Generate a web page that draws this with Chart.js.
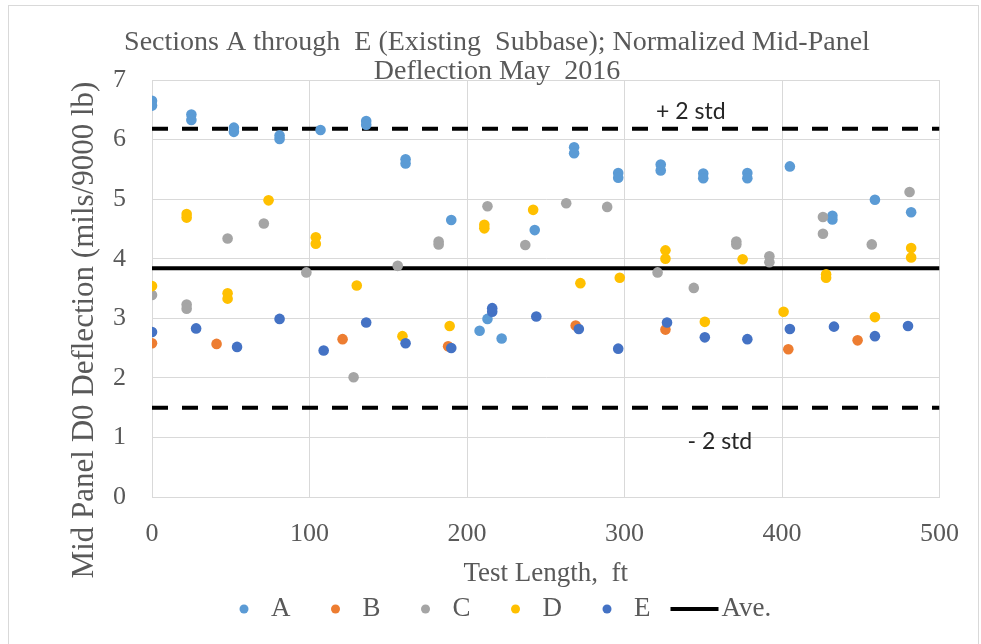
<!DOCTYPE html>
<html>
<head>
<meta charset="utf-8">
<script src="https://cdn.jsdelivr.net/npm/chart.js@4.4.1/dist/chart.umd.min.js"></script>
<style>
  html, body { margin: 0; padding: 0; background: #fff; }
  #wrap { width: 981px; height: 644px; position: relative; }
</style>
</head>
<body>
<div id="wrap"><canvas id="c" width="981" height="644"></canvas></div>
<script>
// ---- Data ----
const seriesNames = ["A", "B", "C", "D", "E"];
const seriesColors = ["#5B9BD5", "#ED7D31", "#A5A5A5", "#FFC000", "#4472C4"];

const xA = [0, 0, 25, 25, 52, 52, 81, 81, 107, 136, 136, 161, 161, 190, 208, 213, 222, 243, 268, 268, 296, 296, 323, 323, 350, 350, 378, 378, 405, 432, 432, 459, 482];
const yA = [6.65, 6.57, 6.42, 6.33, 6.20, 6.13, 6.07, 6.01, 6.16, 6.31, 6.25, 5.67, 5.60, 4.65, 2.79, 2.99, 2.66, 4.48, 5.87, 5.77, 5.44, 5.36, 5.58, 5.48, 5.43, 5.35, 5.44, 5.35, 5.55, 4.72, 4.66, 4.99, 4.78];

const xB = [0, 41, 121, 188, 269, 326, 404, 448];
const yB = [2.58, 2.57, 2.65, 2.53, 2.88, 2.81, 2.48, 2.63];

const xC = [0, 22, 22, 48, 71, 98, 128, 156, 182, 182, 213, 237, 263, 289, 321, 344, 371, 371, 392, 392, 426, 426, 457, 481];
const yC = [3.39, 3.23, 3.16, 4.34, 4.59, 3.77, 2.01, 3.88, 4.29, 4.24, 4.88, 4.23, 4.93, 4.87, 3.77, 3.51, 4.29, 4.24, 4.04, 3.94, 4.70, 4.42, 4.24, 5.12];

const xD = [0, 22, 22, 48, 48, 74, 104, 104, 130, 159, 189, 211, 211, 242, 272, 297, 326, 326, 351, 375, 401, 428, 428, 459, 482, 482];
const yD = [3.54, 4.75, 4.69, 3.42, 3.33, 4.98, 4.36, 4.25, 3.55, 2.70, 2.87, 4.57, 4.51, 4.82, 3.59, 3.68, 4.14, 4.00, 2.94, 3.99, 3.11, 3.74, 3.68, 3.02, 4.18, 4.02];

const xE = [0, 28, 54, 81, 109, 136, 161, 190, 216, 216, 244, 271, 296, 327, 351, 378, 405, 433, 459, 480];
const yE = [2.77, 2.83, 2.52, 2.99, 2.46, 2.93, 2.58, 2.50, 3.17, 3.11, 3.03, 2.82, 2.49, 2.93, 2.68, 2.65, 2.82, 2.86, 2.70, 2.87];

const lineX = [0, 500];
const aveValue = 3.84;
const plus2Std = 6.18;
const minus2Std = 1.50;

const xTicks = [0, 100, 200, 300, 400, 500];
const yTicks = [0, 1, 2, 3, 4, 5, 6, 7];

const titleLines = ["Sections A through  E (Existing  Subbase); Normalized Mid-Panel", "Deflection May  2016"];
const xTitle = "Test Length,  ft";
const yTitle = "Mid Panel D0 Deflection (mils/9000 lb)";
const aveLabel = "Ave.";
const plusLabel = "+ 2 std";
const minusLabel = "- 2 std";
const plusLabelX = 320;
const minusLabelX = 340;

// ---- Build datasets ----
const xs = [xA, xB, xC, xD, xE];
const ys = [yA, yB, yC, yD, yE];
const SERIF = "'Liberation Serif', 'Times New Roman', serif";
const TEXT = "#595959";

const datasets = seriesNames.map((name, i) => ({
  type: "scatter",
  label: name,
  data: xs[i].map((x, k) => ({ x: x, y: ys[i][k] })),
  backgroundColor: seriesColors[i],
  borderColor: seriesColors[i],
  borderWidth: 0,
  pointRadius: 5.3,
  pointHoverRadius: 5.3,
  order: 10 - i
}));

datasets.push({
  type: "line", label: aveLabel,
  data: lineX.map(x => ({ x: x, y: aveValue })),
  borderColor: "#000", borderWidth: 4, pointRadius: 0, order: 20
});
datasets.push({
  type: "line", label: plusLabel,
  data: lineX.map(x => ({ x: x, y: plus2Std })),
  borderColor: "#000", borderWidth: 4, borderDash: [16, 14], pointRadius: 0, order: 21
});
datasets.push({
  type: "line", label: minusLabel,
  data: lineX.map(x => ({ x: x, y: minus2Std })),
  borderColor: "#000", borderWidth: 4, borderDash: [16, 14], pointRadius: 0, order: 22
});

const decor = {
  id: "decor",
  beforeDraw(chart) {
    const ctx = chart.ctx;
    ctx.save();
    ctx.fillStyle = "#fff";
    ctx.fillRect(0, 0, chart.width, chart.height);
    ctx.strokeStyle = "#d9d9d9";
    ctx.lineWidth = 1;
    ctx.strokeRect(8.5, 5.5, 970, 700);
    ctx.restore();
  },
  afterDraw(chart) {
    const ctx = chart.ctx;
    const xs_ = chart.scales.x, ys_ = chart.scales.y;
    const ca = chart.chartArea;
    ctx.save();
    // title
    ctx.fillStyle = TEXT;
    ctx.font = "28px " + SERIF;
    ctx.textAlign = "center";
    ctx.textBaseline = "middle";
    ctx.fillText(titleLines[0], 497, 43);
    ctx.fillText(titleLines[1], 497, 72);
    // x title
    ctx.font = "27px " + SERIF;
    ctx.fillText(xTitle, (ca.left + ca.right) / 2, 574);
    // y title
    ctx.save();
    ctx.font = "31px " + SERIF;
    ctx.translate(85, 330);
    ctx.rotate(-Math.PI / 2);
    ctx.fillText(yTitle, 0, 0);
    ctx.restore();
    // std labels
    ctx.fillStyle = "#262626";
    ctx.font = "23px Lato, 'Open Sans', sans-serif";
    ctx.textAlign = "left";
    ctx.fillText(plusLabel, xs_.getPixelForValue(plusLabelX), ys_.getPixelForValue(plus2Std) - 17);
    ctx.fillText(minusLabel, xs_.getPixelForValue(minusLabelX), ys_.getPixelForValue(minus2Std) + 34);
    // legend
    ctx.font = "27px " + SERIF;
    const ly = 609;
    let x = 244;
    seriesNames.forEach((name, i) => {
      ctx.fillStyle = seriesColors[i];
      ctx.beginPath();
      ctx.arc(x, ly, 4.5, 0, Math.PI * 2);
      ctx.fill();
      ctx.fillStyle = TEXT;
      const tx = x + 27;
      ctx.fillText(name, tx, ly);
      const w = ctx.measureText(name).width;
      x = tx + w + 45;
    });
    // Ave line item
    const lx = x - 45 + 20;
    ctx.strokeStyle = "#000";
    ctx.lineWidth = 4;
    ctx.beginPath();
    ctx.moveTo(lx, ly);
    ctx.lineTo(lx + 48, ly);
    ctx.stroke();
    ctx.fillStyle = TEXT;
    ctx.fillText(aveLabel, lx + 51, ly);
    ctx.restore();
  }
};

new Chart(document.getElementById("c"), {
  data: { datasets: datasets },
  options: {
    responsive: false,
    animation: false,
    events: [],
    layout: { padding: { left: 0, top: 80, right: 40, bottom: 0 } },
    plugins: { legend: { display: false }, title: { display: false }, tooltip: { enabled: false } },
    scales: {
      x: {
        type: "linear", min: 0, max: 500,
        afterFit(s) { s.height = 147; },
        afterBuildTicks(s) { s.ticks = xTicks.map(v => ({ value: v })); },
        grid: { color: "#d9d9d9", drawTicks: false },
        border: { color: "#d9d9d9" },
        ticks: { color: TEXT, font: { family: SERIF, size: 26 }, padding: 22, maxRotation: 0 }
      },
      y: {
        type: "linear", min: 0, max: 7,
        afterFit(s) { s.width = 152; },
        afterBuildTicks(s) { s.ticks = yTicks.map(v => ({ value: v })); },
        grid: { color: "#d9d9d9", drawTicks: false },
        border: { color: "#d9d9d9" },
        ticks: { color: TEXT, font: { family: SERIF, size: 26 }, padding: 26 }
      }
    }
  },
  plugins: [decor]
});
</script>
</body>
</html>
